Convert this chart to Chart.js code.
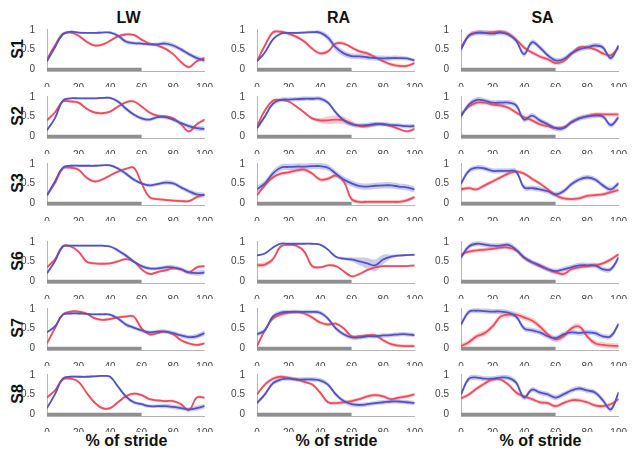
<!DOCTYPE html>
<html>
<head>
<meta charset="utf-8">
<script src="https://cdn.jsdelivr.net/npm/chart.js@4.4.1/dist/chart.umd.min.js"></script>
<style>
  body { margin: 0; background: #fff; width: 636px; height: 455px; position: relative; overflow: hidden; font-family: Arial, "Liberation Sans", sans-serif; }
  canvas { position: absolute; }
  .lbl { position: absolute; font-weight: bold; font-size: 16px; color: #111; white-space: nowrap; transform: translate(-50%, -50%); }
  .row { transform: translate(-50%, -50%) rotate(-90deg); }
</style>
</head>
<body>
<script>
// stride positions (%) shared by every curve
const stride = [0, 5, 10, 15, 20, 25, 30, 35, 40, 45, 50, 55, 60, 65, 70, 75, 80, 85, 90, 95, 100];
const columns = ['LW', 'RA', 'SA'];
const subjects = ['S1', 'S2', 'S3', 'S6', 'S7', 'S8'];
const xTicks = [0, 20, 40, 60, 80, 100];
const yTicks = [0, 0.5, 1];
const stanceEnd = 60;

// LW
const lwS1Red  = [0.25,0.6,0.9,0.93,0.85,0.7,0.6,0.62,0.72,0.83,0.88,0.87,0.75,0.65,0.6,0.52,0.38,0.18,0.05,0.2,0.28];
const lwS1Blue = [0.2,0.55,0.88,0.95,0.93,0.92,0.92,0.93,0.93,0.85,0.7,0.66,0.65,0.63,0.63,0.65,0.6,0.5,0.38,0.28,0.22];
const lwS2Red  = [0.4,0.6,0.88,0.88,0.85,0.7,0.6,0.58,0.62,0.75,0.86,0.88,0.75,0.6,0.52,0.5,0.45,0.3,0.12,0.3,0.42];
const lwS2Blue = [0.15,0.45,0.9,0.96,0.96,0.96,0.96,0.97,0.97,0.88,0.7,0.55,0.45,0.42,0.48,0.48,0.42,0.33,0.25,0.2,0.18];
const lwS3Red  = [0.2,0.5,0.88,0.9,0.85,0.65,0.55,0.6,0.7,0.8,0.87,0.9,0.5,0.15,0.1,0.08,0.06,0.05,0.05,0.15,0.22];
const lwS3Blue = [0.2,0.55,0.9,0.95,0.95,0.95,0.95,0.96,0.96,0.88,0.75,0.6,0.5,0.45,0.48,0.52,0.5,0.4,0.3,0.22,0.2];
const lwS6Red  = [0.35,0.55,0.88,0.88,0.75,0.5,0.45,0.44,0.45,0.5,0.56,0.5,0.3,0.18,0.23,0.27,0.32,0.3,0.22,0.35,0.38];
const lwS6Blue = [0.2,0.5,0.88,0.9,0.9,0.9,0.9,0.9,0.88,0.78,0.65,0.5,0.38,0.32,0.32,0.35,0.35,0.3,0.22,0.2,0.22];
const lwS7Red  = [0.12,0.5,0.85,0.93,0.93,0.88,0.76,0.72,0.74,0.78,0.8,0.8,0.5,0.35,0.38,0.42,0.35,0.2,0.12,0.08,0.12];
const lwS7Blue = [0.4,0.55,0.85,0.88,0.88,0.87,0.86,0.86,0.85,0.75,0.6,0.52,0.45,0.4,0.42,0.42,0.38,0.32,0.28,0.3,0.38];
const lwS8Red  = [0.42,0.6,0.88,0.9,0.82,0.55,0.3,0.15,0.15,0.3,0.45,0.52,0.48,0.38,0.35,0.33,0.33,0.25,0.1,0.42,0.42];
const lwS8Blue = [0.15,0.5,0.9,0.95,0.95,0.95,0.96,0.97,0.95,0.7,0.45,0.3,0.25,0.2,0.2,0.2,0.18,0.15,0.12,0.15,0.2];

// RA
const raS1Red  = [0.2,0.6,0.93,0.95,0.9,0.82,0.7,0.52,0.4,0.45,0.65,0.65,0.55,0.45,0.4,0.3,0.2,0.12,0.08,0.08,0.15];
const raS1Blue = [0.2,0.42,0.75,0.9,0.92,0.92,0.93,0.94,0.93,0.8,0.55,0.4,0.33,0.32,0.3,0.28,0.27,0.28,0.28,0.27,0.22];
const raS2Red  = [0.25,0.65,0.9,0.92,0.88,0.75,0.6,0.45,0.4,0.4,0.42,0.4,0.32,0.25,0.25,0.3,0.3,0.25,0.18,0.12,0.18];
const raS2Blue = [0.2,0.5,0.82,0.92,0.93,0.94,0.95,0.95,0.95,0.85,0.6,0.4,0.3,0.27,0.28,0.3,0.3,0.28,0.27,0.25,0.25];
const raS3Red  = [0.2,0.45,0.65,0.75,0.78,0.83,0.85,0.75,0.6,0.62,0.7,0.55,0.1,0.03,0.03,0.03,0.03,0.03,0.03,0.07,0.15];
const raS3Blue = [0.35,0.5,0.75,0.9,0.92,0.93,0.93,0.94,0.94,0.9,0.75,0.6,0.5,0.43,0.42,0.44,0.45,0.45,0.42,0.4,0.35];
const raS6Red  = [0.4,0.42,0.55,0.88,0.92,0.9,0.75,0.38,0.35,0.4,0.38,0.25,0.12,0.18,0.28,0.35,0.38,0.38,0.38,0.38,0.4];
const raS6Blue = [0.65,0.7,0.85,0.95,0.95,0.95,0.95,0.95,0.93,0.8,0.62,0.57,0.55,0.5,0.45,0.4,0.55,0.62,0.65,0.66,0.67];
const raS7Red  = [0.05,0.45,0.75,0.85,0.9,0.92,0.88,0.78,0.65,0.6,0.62,0.5,0.3,0.3,0.32,0.32,0.2,0.1,0.06,0.05,0.05];
const raS7Blue = [0.35,0.45,0.8,0.9,0.92,0.92,0.92,0.92,0.9,0.75,0.5,0.35,0.27,0.27,0.3,0.3,0.32,0.33,0.35,0.35,0.33];
const raS8Red  = [0.5,0.75,0.9,0.95,0.92,0.88,0.82,0.75,0.55,0.3,0.28,0.3,0.33,0.38,0.45,0.48,0.45,0.38,0.42,0.45,0.5];
const raS8Blue = [0.28,0.5,0.78,0.88,0.9,0.88,0.88,0.88,0.86,0.75,0.5,0.33,0.25,0.23,0.25,0.28,0.3,0.32,0.32,0.3,0.28];

// SA
const saS1Red  = [0.55,0.85,0.93,0.93,0.94,0.95,0.9,0.75,0.55,0.42,0.32,0.25,0.15,0.2,0.38,0.55,0.55,0.5,0.4,0.35,0.55];
const saS1Blue = [0.5,0.85,0.92,0.92,0.9,0.93,0.88,0.72,0.38,0.68,0.55,0.35,0.22,0.25,0.4,0.5,0.55,0.6,0.55,0.28,0.6];
const saS2Red  = [0.55,0.75,0.85,0.85,0.8,0.78,0.72,0.6,0.48,0.4,0.3,0.25,0.2,0.22,0.35,0.45,0.5,0.55,0.55,0.55,0.55];
const saS2Blue = [0.5,0.8,0.92,0.9,0.85,0.85,0.85,0.78,0.42,0.52,0.4,0.3,0.2,0.2,0.35,0.45,0.5,0.52,0.5,0.28,0.48];
const saS3Red  = [0.35,0.38,0.35,0.45,0.55,0.65,0.75,0.8,0.75,0.62,0.5,0.35,0.2,0.12,0.1,0.12,0.18,0.2,0.22,0.28,0.33];
const saS3Blue = [0.5,0.82,0.9,0.88,0.82,0.82,0.82,0.8,0.4,0.38,0.35,0.3,0.22,0.3,0.48,0.6,0.65,0.6,0.45,0.35,0.5];
const saS6Red  = [0.68,0.75,0.78,0.8,0.82,0.85,0.85,0.78,0.6,0.48,0.38,0.3,0.22,0.18,0.3,0.35,0.38,0.4,0.45,0.55,0.68];
const saS6Blue = [0.6,0.88,0.95,0.93,0.9,0.9,0.92,0.8,0.6,0.48,0.4,0.3,0.25,0.3,0.35,0.4,0.4,0.4,0.3,0.3,0.6];
const saS7Red  = [0.05,0.15,0.3,0.38,0.55,0.8,0.85,0.85,0.78,0.7,0.55,0.35,0.22,0.3,0.5,0.55,0.3,0.12,0.08,0.06,0.05];
const saS7Blue = [0.6,0.92,0.95,0.94,0.93,0.93,0.9,0.8,0.5,0.45,0.4,0.3,0.25,0.35,0.4,0.38,0.4,0.38,0.3,0.3,0.62];
const saS8Red  = [0.4,0.5,0.65,0.78,0.88,0.88,0.75,0.55,0.45,0.38,0.3,0.28,0.2,0.28,0.35,0.35,0.3,0.22,0.2,0.25,0.38];
const saS8Blue = [0.5,0.9,0.93,0.9,0.9,0.93,0.92,0.8,0.42,0.62,0.55,0.5,0.42,0.5,0.6,0.65,0.6,0.55,0.35,0.12,0.55];

// band half widths (scalar or per stride point)
const lwRedSd  = 0.035;
const lwBlueSd = [0.025,0.025,0.025,0.025,0.025,0.025,0.025,0.025,0.03,0.045,0.055,0.045,0.045,0.045,0.045,0.055,0.055,0.055,0.055,0.065,0.065];
const raS1BlueSd = [0.03,0.03,0.03,0.03,0.03,0.03,0.03,0.04,0.05,0.08,0.09,0.08,0.07,0.07,0.07,0.07,0.07,0.06,0.06,0.05,0.04];
const raS2RedSd  = [0.03,0.03,0.03,0.03,0.03,0.03,0.03,0.04,0.06,0.1,0.11,0.1,0.07,0.04,0.05,0.06,0.04,0.03,0.03,0.03,0.03];
const raS3RedSd  = 0.05;
const raS3BlueSd = 0.08;
const raS6RedSd  = [0.06,0.06,0.05,0.04,0.04,0.04,0.05,0.05,0.03,0.03,0.03,0.03,0.03,0.03,0.03,0.03,0.03,0.03,0.03,0.03,0.03];
const raS6BlueSd = [0.02,0.02,0.02,0.02,0.02,0.02,0.02,0.02,0.02,0.03,0.03,0.04,0.05,0.1,0.14,0.15,0.12,0.05,0.03,0.02,0.02];
const raRedSd  = 0.045;
const raBlueSd = 0.055;
const saRedSd  = 0.05;
const saBlueSd = 0.065;
const saS7RedSd = 0.07;

const panels = [
  [[lwS1Red, lwRedSd, lwS1Blue, lwBlueSd], [raS1Red, raRedSd, raS1Blue, raS1BlueSd], [saS1Red, saRedSd, saS1Blue, saBlueSd]],
  [[lwS2Red, lwRedSd, lwS2Blue, lwBlueSd], [raS2Red, raS2RedSd, raS2Blue, raBlueSd], [saS2Red, saRedSd, saS2Blue, saBlueSd]],
  [[lwS3Red, lwRedSd, lwS3Blue, lwBlueSd], [raS3Red, raS3RedSd, raS3Blue, raS3BlueSd], [saS3Red, saRedSd, saS3Blue, saBlueSd]],
  [[lwS6Red, lwRedSd, lwS6Blue, lwBlueSd], [raS6Red, raS6RedSd, raS6Blue, raS6BlueSd], [saS6Red, saRedSd, saS6Blue, saBlueSd]],
  [[lwS7Red, lwRedSd, lwS7Blue, lwBlueSd], [raS7Red, raRedSd, raS7Blue, raBlueSd], [saS7Red, saS7RedSd, saS7Blue, saBlueSd]],
  [[lwS8Red, lwRedSd, lwS8Blue, lwBlueSd], [raS8Red, raRedSd, raS8Blue, raBlueSd], [saS8Red, saRedSd, saS8Blue, saBlueSd]]
];

const colX = [47, 257, 461];          // pixel of x = 0 in each column
const rowTop = [27, 94, 161, 239, 306, 372]; // pixel of y = 1 in each row
const plotW = 159;
const axisW = 30, axisH = 16, padTop = 7, padRight = 10, areaH = 45;

const RED = '#ee4c5c', BLUE = '#5252c4';
const RED_BAND = 'rgba(240, 110, 120, 0.36)', BLUE_BAND = 'rgba(110, 110, 205, 0.36)';

function pts(vals, sd, sign) {
  return stride.map((x, i) => {
    let s = 0;
    if (sd !== undefined) s = (Array.isArray(sd) ? sd[i] : sd) * sign;
    return { x: x, y: vals[i] + s };
  });
}

function band(vals, sd, color, order) {
  return [
    { data: pts(vals, sd, 1), borderWidth: 0, backgroundColor: color, fill: '+1', pointRadius: 0, tension: 0.4, order: order },
    { data: pts(vals, sd, -1), borderWidth: 0, backgroundColor: color, fill: false, pointRadius: 0, tension: 0.4, order: order }
  ];
}

function line(vals, color, order) {
  return { data: pts(vals), borderColor: color, borderWidth: 1.8, fill: false, pointRadius: 0, tension: 0.4, order: order };
}

function addText(txt, x, y, cls) {
  const d = document.createElement('div');
  d.className = 'lbl' + (cls ? ' ' + cls : '');
  d.textContent = txt;
  d.style.left = x + 'px';
  d.style.top = y + 'px';
  document.body.appendChild(d);
}

function drawPanel(r, c) {
  const [red, redSd, blue, blueSd] = panels[r][c];
  const cv = document.createElement('canvas');
  const w = axisW + plotW + padRight, h = padTop + areaH + axisH;
  cv.width = w; cv.height = h;
  cv.style.left = (colX[c] - axisW) + 'px';
  cv.style.top = (rowTop[r] - 1 - padTop) + 'px';
  document.body.appendChild(cv);

  const tickFont = { family: 'Arial, "Liberation Sans", sans-serif', size: 10 };
  new Chart(cv.getContext('2d'), {
    type: 'line',
    data: {
      datasets: [
        ...band(red, redSd, RED_BAND, 6),
        ...band(blue, blueSd, BLUE_BAND, 5),
        { data: [{ x: 0, y: -0.015 }, { x: stanceEnd, y: -0.015 }], borderColor: '#8f8f8f', borderWidth: 4, pointRadius: 0, fill: false, order: 4 },
        line(red, RED, 3),
        line(blue, BLUE, 2)
      ]
    },
    options: {
      responsive: false,
      animation: false,
      devicePixelRatio: 1,
      layout: { padding: { top: padTop, right: padRight, left: 0, bottom: 0 } },
      plugins: { legend: { display: false }, tooltip: { enabled: false } },
      scales: {
        x: {
          type: 'linear', min: 0, max: 100,
          grid: { display: false },
          border: { display: true, color: '#b5b5b5' },
          afterBuildTicks: s => { s.ticks = xTicks.map(v => ({ value: v })); },
          afterFit: s => { s.height = axisH; },
          ticks: { font: tickFont, color: '#444', padding: 3, maxRotation: 0, callback: v => String(v) }
        },
        y: {
          min: -0.05, max: 1.02,
          grid: { display: false },
          border: { display: true, color: '#b5b5b5' },
          afterBuildTicks: s => { s.ticks = yTicks.map(v => ({ value: v })); },
          afterFit: s => { s.width = axisW; },
          ticks: { font: tickFont, color: '#444', padding: 4, callback: v => String(v) }
        }
      }
    }
  });
}

columns.forEach((name, c) => addText(name, colX[c] + plotW / 2 + 2, 18));
subjects.forEach((name, r) => addText(name, 18, rowTop[r] + 22, 'row'));
columns.forEach((name, c) => addText('% of stride', colX[c] + plotW / 2, 441));

for (let r = 0; r < subjects.length; r++) {
  for (let c = 0; c < columns.length; c++) drawPanel(r, c);
}
</script>
</body>
</html>
